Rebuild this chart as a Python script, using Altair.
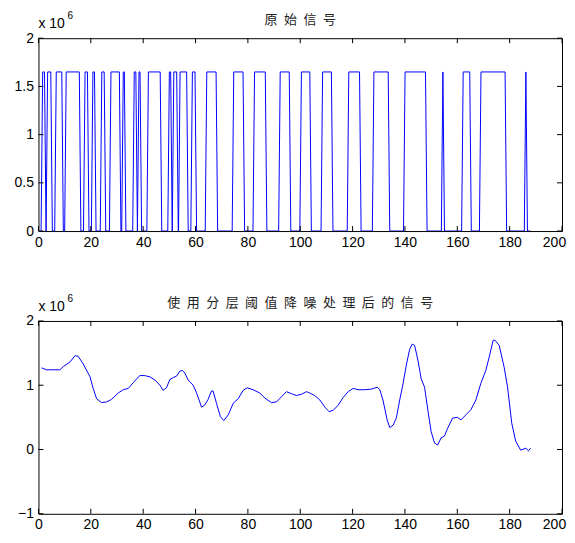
import altair as alt
import pandas as pd

# ---------------- data ----------------
HIGH = 1.65          # level of the original signal, in units of 10^6
SIG_START, SIG_END = 1.0, 188.0
RAMP = 0.3           # half width of each edge

# times where the original signal rises to HIGH and falls back to 0
high_rise = [1.3, 3.2, 6.5, 10.3, 17.5, 20.5, 23.9, 27.4, 32.1, 36.3, 38.1, 41.7,
             49.7, 51.4, 53.8, 58.5, 64.0, 74.3, 82.25, 92.05, 100.15, 108.25,
             118.25, 127.85, 139.75, 154.2, 161.95, 168.75, 185.9]
high_fall = [2.6, 5.0, 9.2, 15.9, 19.0, 21.7, 25.4, 31.2, 33.1, 37.5, 39.1, 46.8,
             50.8, 53.1, 56.9, 60.1, 68.15, 78.45, 86.95, 96.1, 103.95, 112.2,
             122.95, 133.9, 148.15, 154.8, 165.05, 178.55, 186.5]

# denoised signal (units of 10^6)
den_x = [1.2, 3.1, 8.2, 9.5, 12.0, 14.0, 15.2, 17.1, 19.7, 20.9, 22.2, 24.1, 26.0,
         27.9, 30.5, 32.4, 34.3, 36.2, 38.7, 40.6, 42.6, 44.5, 46.4, 47.6, 48.9,
         50.2, 51.5, 52.7, 54.0, 55.0, 55.9, 57.2, 59.1, 60.4, 62.3, 63.5, 64.8,
         66.1, 66.7, 68.0, 69.5, 70.8, 72.5, 74.4, 76.3, 78.2, 79.7, 82.0, 84.5,
         86.5, 89.0, 90.9, 92.8, 94.7, 96.6, 98.5, 100.5, 102.4, 103.6, 105.5,
         107.5, 109.4, 111.0, 112.6, 114.5, 116.4, 118.3, 120.2, 122.1, 124.7,
         127.2, 129.4, 130.4, 131.6, 133.2, 134.2, 135.5, 136.7, 138.0, 139.3,
         140.5, 141.8, 142.8, 143.7, 145.0, 146.2, 147.5, 148.8, 150.0, 151.3,
         152.5, 153.8, 155.1, 156.3, 158.2, 160.1, 161.4, 163.3, 165.2, 167.1,
         169.0, 170.9, 172.2, 173.7, 174.4, 176.0, 177.9, 179.2, 180.8, 182.3,
         184.2, 185.5, 186.2, 187.2, 188.0]
den_y = [1.27, 1.24, 1.24, 1.29, 1.36, 1.46, 1.45, 1.33, 1.13, 0.95, 0.79, 0.73, 0.74,
         0.78, 0.88, 0.93, 0.95, 1.04, 1.15, 1.15, 1.13, 1.08, 1.00, 0.92, 0.96,
         1.09, 1.12, 1.14, 1.22, 1.23, 1.19, 1.08, 1.00, 0.88, 0.66, 0.69, 0.78,
         0.91, 0.91, 0.72, 0.51, 0.45, 0.54, 0.72, 0.79, 0.92, 0.96, 0.93, 0.88,
         0.80, 0.73, 0.74, 0.82, 0.90, 0.87, 0.84, 0.86, 0.90, 0.88, 0.84,
         0.77, 0.66, 0.59, 0.61, 0.69, 0.81, 0.90, 0.95, 0.93, 0.93,
         0.94, 0.97, 0.93, 0.77, 0.46, 0.34, 0.38, 0.49, 0.77, 1.03,
         1.31, 1.56, 1.64, 1.62, 1.38, 1.10, 0.97, 0.60, 0.28, 0.10,
         0.07, 0.18, 0.21, 0.33, 0.49, 0.50, 0.46, 0.54, 0.62, 0.77,
         1.03, 1.23, 1.44, 1.70, 1.70, 1.62, 1.28, 0.97, 0.41, 0.13,
         -0.01, 0.01, 0.02, -0.02, 0.02]

x_ticks = [0, 20, 40, 60, 80, 100, 120, 140, 160, 180, 200]
y1_ticks = [0, 0.5, 1, 1.5, 2]
y2_ticks = [-1, 0, 1, 2]
title1 = "原始信号"
title2 = "使用分层阈值降噪处理后的信号"

# ---------------- tables ----------------
xs, ys = [SIG_START], [0.0]
for r, f in zip(high_rise, high_fall):
    xs += [r - RAMP, r + RAMP, f - RAMP, f + RAMP]
    ys += [0.0, HIGH, HIGH, 0.0]
xs.append(SIG_END)
ys.append(0.0)
orig_df = pd.DataFrame({"x": xs, "y": ys, "o": range(len(xs))})
den_df = pd.DataFrame({"x": den_x, "y": den_y, "o": range(len(den_x))})

W, H = 524, 193
FONT = "Liberation Sans"
CJK = "Noto Sans CJK SC"
BLUE = "#0000ff"
SP = "\u2002"
LAST_SHIFT = {"condition": {"test": "datum.value >= 200", "value": -8}, "value": 0}


def panel(df, ydom, yticks, title):
    xs_ = alt.Scale(domain=[0, 200], nice=False, zero=False)
    ys_ = alt.Scale(domain=ydom, nice=False, zero=False)
    xax = alt.Axis(values=x_ticks, format="d", labelPadding=4, labelOffset=LAST_SHIFT)
    yax = alt.Axis(values=yticks, format="~g", labelPadding=5)
    line = alt.Chart(df).mark_line(color=BLUE, strokeWidth=1, clip=True).encode(
        x=alt.X("x:Q", scale=xs_, title=None, axis=xax),
        y=alt.Y("y:Q", scale=ys_, title=None, axis=yax),
        order="o:Q",
    )
    xt = pd.DataFrame({"t": x_ticks})
    yt = pd.DataFrame({"t": yticks})
    tx = alt.X("t:Q", scale=xs_, title=None, axis=xax)
    ty = alt.Y("t:Q", scale=ys_, title=None, axis=yax)
    rb = alt.Chart(xt).mark_rule(color="black", strokeWidth=1).encode(
        x=tx, y=alt.value(H), y2=alt.value(H - 5))
    rt = alt.Chart(xt).mark_rule(color="black", strokeWidth=1).encode(
        x=tx, y=alt.value(0), y2=alt.value(5))
    rl = alt.Chart(yt).mark_rule(color="black", strokeWidth=1).encode(
        y=ty, x=alt.value(0), x2=alt.value(5))
    rr = alt.Chart(yt).mark_rule(color="black", strokeWidth=1).encode(
        y=ty, x=alt.value(W), x2=alt.value(W - 5))
    lab = pd.DataFrame({"t": [SP.join(title)], "m": ["x 10"], "e": ["6"]})
    ttl = alt.Chart(lab).mark_text(font=CJK, fontSize=13, color="#222222",
                                   align="center", baseline="alphabetic").encode(
        text="t:N", x=alt.value(W / 2), y=alt.value(-14))
    mult = alt.Chart(lab).mark_text(font=FONT, fontSize=14, color="black",
                                    align="left", baseline="alphabetic").encode(
        text="m:N", x=alt.value(0), y=alt.value(-10))
    sup = alt.Chart(lab).mark_text(font=FONT, fontSize=10, color="black",
                                   align="left", baseline="alphabetic").encode(
        text="e:N", x=alt.value(29), y=alt.value(-19))
    return alt.layer(line, rb, rt, rl, rr, ttl, mult, sup).properties(width=W, height=H)


top = panel(orig_df, [0, 2], y1_ticks, title1)
bottom = panel(den_df, [-1, 2], y2_ticks, title2)

chart = alt.vconcat(top, bottom, spacing=43).properties(
    padding={"left": 5.5, "right": 0, "top": 2, "bottom": 0},
    background="white",
).configure_view(stroke="black", strokeWidth=1).configure_axis(
    labelFont=FONT, labelFontSize=14, labelColor="black", ticks=False,
    domain=False, grid=False, labelOverlap=False, labelFlush=False,
)

chart.save("out.html", embed_options={"renderer": "svg", "actions": False})
